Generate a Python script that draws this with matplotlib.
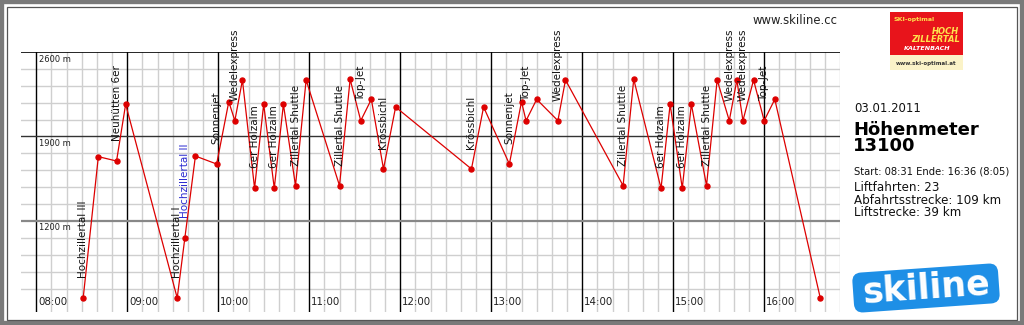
## Skiline day profile - altitude over time with lift names
import numpy as np
import matplotlib.pyplot as plt
from matplotlib.patches import Rectangle, FancyBboxPatch
from matplotlib.transforms import Affine2D

## Data
times = ["08:31", "08:41", "08:53", "08:59", "09:33", "09:38", "09:45", "09:59",
         "10:07", "10:11", "10:16", "10:24", "10:30", "10:37", "10:43", "10:51",
         "10:58", "11:20", "11:27", "11:34", "11:41", "11:49", "11:57", "12:47",
         "12:55", "13:12", "13:20", "13:23", "13:30", "13:44", "13:49", "14:27",
         "14:34", "14:52", "14:58", "15:06", "15:12", "15:22", "15:29", "15:37",
         "15:42", "15:46", "15:53", "16:00", "16:07", "16:37"]
altitude = [562, 1733, 1697, 2167, 562, 1056, 1738, 1672,
            2188, 2031, 2368, 1471, 2167, 1471, 2167, 1493,
            2368, 1493, 2374, 2031, 2208, 1631, 2144, 1631,
            2144, 1672, 2188, 2031, 2208, 2031, 2368, 1493,
            2374, 1471, 2167, 1471, 2167, 1493, 2368, 2031,
            2368, 2031, 2368, 2031, 2208, 562]

lift_points = [0, 2, 4, 5, 7, 9, 11, 13, 15, 17, 19, 21, 23, 25, 27, 29,
               31, 33, 35, 37, 39, 41, 43]
lift_names = ["Hochzillertal III", "Neuhütten 6er", "Hochzillertal I", "Hochzillertal II",
              "Sonnenjet", "Wedelexpress", "6er Holzalm", "6er Holzalm",
              "Zillertal Shuttle", "Zillertal Shuttle", "Top-Jet", "Krössbichl",
              "Krössbichl", "Sonnenjet", "Top-Jet", "Wedelexpress",
              "Zillertal Shuttle", "6er Holzalm", "6er Holzalm", "Zillertal Shuttle",
              "Wedelexpress", "Wedelexpress", "Top-Jet"]
highlight = "Hochzillertal II"

hour_labels = ["08:00", "09:00", "10:00", "11:00", "12:00", "13:00", "14:00", "15:00", "16:00"]
alt_labels = [2600, 1900, 1200]

day = "03.01.2011"
summary_title = "Höhenmeter\n13100"
start_end = "Start: 08:31 Ende: 16:36 (8:05)"
stats = "Liftfahrten: 23\nAbfahrtsstrecke: 109 km\nLiftstrecke: 39 km"

W, H = 1024, 325


def to_min(s):
    h, m = s.split(":")
    return int(h) * 60 + int(m)


def fx(px):
    return px / W


def fy(py):
    return 1 - py / H


x = np.array([to_min(t) for t in times])
y = np.array(altitude)

fig = plt.figure(figsize=(W / 100, H / 100), dpi=100)
fig.patch.set_facecolor("white")

## Main plot area
ax = fig.add_axes([fx(21), fy(312), fx(840) - fx(21), fy(52) - fy(312)])
ax.set_xlim(470, 1010)
ax.set_ylim(446, 2600)
ax.axis("off")

# grid
for m in range(490, 1011, 10):
    if m % 60 == 0 and m <= 960:
        continue
    ax.axvline(m, color="#cfcfcf", lw=1, zorder=1)
for h in hour_labels:
    ax.axvline(to_min(h), color="black", lw=1, zorder=2)
for a in range(640, 2600, 140):
    if a in alt_labels:
        continue
    ax.axhline(a, color="#cfcfcf", lw=1, zorder=1)
ax.axhline(2600, color="black", lw=1.2, zorder=2)
ax.axhline(1900, color="#333333", lw=1, zorder=2)
ax.axhline(1200, color="#888888", lw=1.6, zorder=2)

for h in hour_labels:
    ax.annotate(h, (to_min(h), 446), xytext=(2, 10), textcoords="offset pixels",
                fontsize=7.4, va="center", ha="left", color="#222222", zorder=3)
for a in alt_labels:
    ax.annotate(f"{a} m", (480, a), xytext=(3, -7), textcoords="offset pixels",
                fontsize=6, va="center", ha="left", color="#222222", zorder=3)

# profile
ax.plot(x, y, color="#dd0000", lw=0.9, marker="o", ms=3.6, zorder=4, clip_on=False)

for i, name in zip(lift_points, lift_names):
    col = "#2a2ad0" if name == highlight else "#111111"
    ax.annotate(name, (x[i], y[i]), xytext=(0, 20), textcoords="offset pixels",
                rotation=90, ha="center", va="bottom", fontsize=7.5, color=col,
                zorder=5, annotation_clip=False)

## Texts on the right
fig.text(fx(838), fy(20), "www.skiline.cc", ha="right", va="center", fontsize=8.4, color="#222222")
fig.text(fx(854), fy(109), day, ha="left", va="center", fontsize=8.4, color="#111111")
fig.text(fx(853), fy(138), summary_title, ha="left", va="center", fontsize=13,
         fontweight="bold", linespacing=0.85, color="black")
fig.text(fx(854), fy(171), start_end, ha="left", va="center", fontsize=7.2, color="#111111")
fig.text(fx(854), fy(200), stats, ha="left", va="center", fontsize=8.6,
         linespacing=0.95, color="#111111")

## Ski-optimal logo
fig.add_artist(Rectangle((fx(890), fy(70)), fx(963) - fx(890), fy(55) - fy(70),
                         transform=fig.transFigure, fc="#fbf3c8", ec="none"))
fig.add_artist(Rectangle((fx(890), fy(55)), fx(963) - fx(890), fy(12) - fy(55),
                         transform=fig.transFigure, fc="#e8141b", ec="none"))
fig.text(fx(893), fy(19), "SKI-optimal", fontsize=4.5, fontweight="bold", color="#ffe34d",
         ha="left", va="center")
fig.text(fx(959), fy(31), "HOCH", fontsize=6, fontweight="bold", style="italic",
         color="#ffe34d", ha="right", va="center")
fig.text(fx(960), fy(40), "ZILLERTAL", fontsize=6, fontweight="bold", style="italic",
         color="#ffe34d", ha="right", va="center")
fig.text(fx(927), fy(49), "KALTENBACH", fontsize=4.6, fontweight="bold", style="italic",
         color="white", ha="center", va="center")
fig.text(fx(926), fy(63), "www.ski-optimal.at", fontsize=4, fontweight="bold",
         color="#333333", ha="center", va="center")

## Skiline logo
lax = fig.add_axes([fx(840), 0, fx(1015) - fx(840), fy(250)])
lax.set_xlim(0, 175)
lax.set_ylim(0, 75)
lax.axis("off")
cx, cy = 86, 37
box = FancyBboxPatch((cx - 73, cy - 20), 146, 40, boxstyle="round,pad=0,rounding_size=9",
                     fc="#1e8fe6", ec="none",
                     transform=Affine2D().rotate_deg_around(cx, cy, 4) + lax.transData)
lax.add_patch(box)
lax.text(cx, cy, "skiline", ha="center", va="center", fontsize=25, fontweight="bold",
         color="white", rotation=4)

## Frame
fig.add_artist(Rectangle((0, 0), 1, 1, transform=fig.transFigure, fill=False,
                         ec="#7a7a7a", lw=6))
fig.add_artist(Rectangle((fx(7), fy(320)), fx(1017) - fx(7), fy(7) - fy(320),
                         transform=fig.transFigure, fill=False, ec="#555555", lw=0.9))

fig.savefig("out.png", dpi=100)
